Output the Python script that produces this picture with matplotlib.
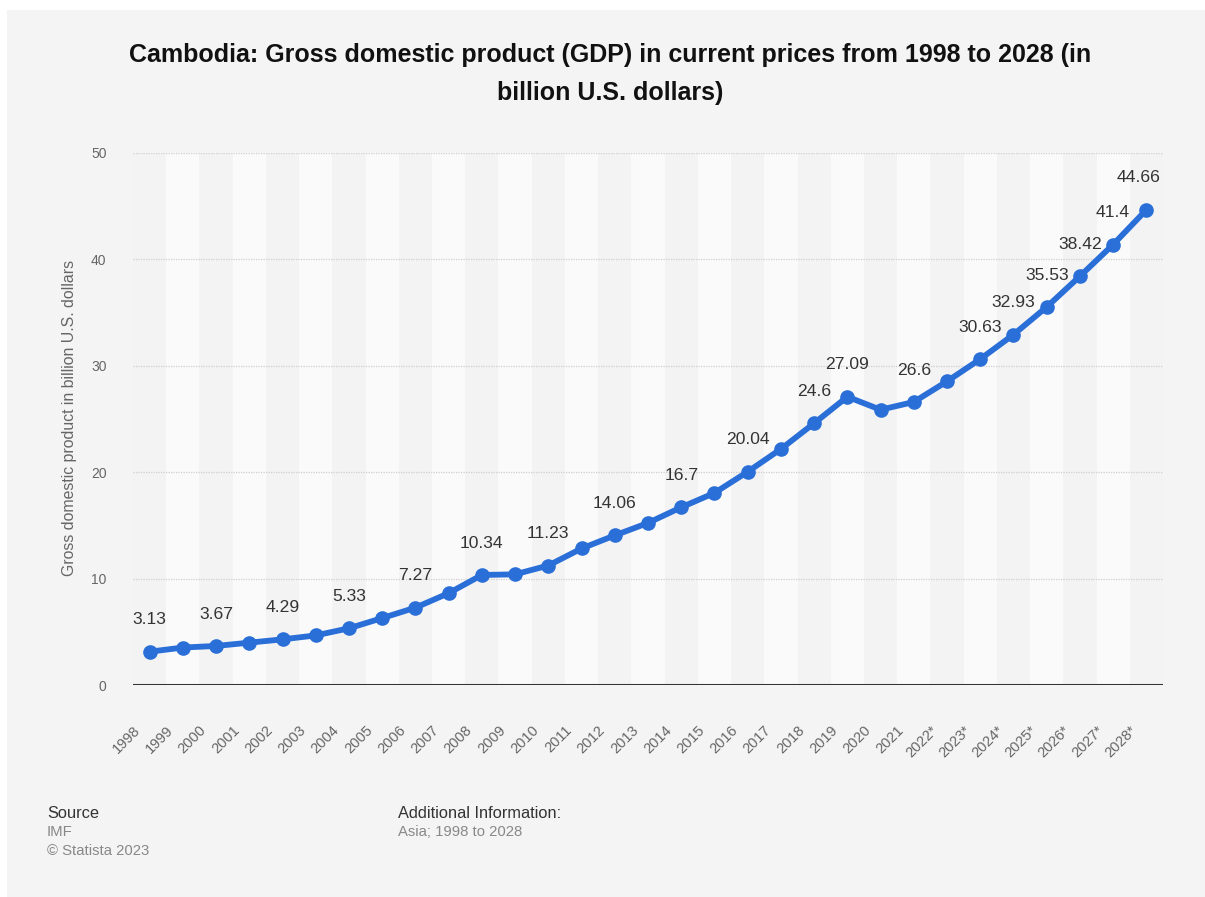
import matplotlib
matplotlib.use("Agg")
import matplotlib.pyplot as plt
from matplotlib.patches import Rectangle
from matplotlib.transforms import ScaledTranslation

plt.rcParams['font.family'] = ['Liberation Sans', 'DejaVu Sans']

years = ['1998', '1999', '2000', '2001', '2002', '2003', '2004', '2005', '2006',
         '2007', '2008', '2009', '2010', '2011', '2012', '2013', '2014', '2015',
         '2016', '2017', '2018', '2019', '2020', '2021', '2022*', '2023*',
         '2024*', '2025*', '2026*', '2027*', '2028*']
gdp = [3.13, 3.52, 3.67, 3.98, 4.29, 4.66, 5.33, 6.29, 7.27, 8.63, 10.34, 10.4,
       11.23, 12.83, 14.06, 15.23, 16.7, 18.05, 20.04, 22.18, 24.6, 27.09, 25.87,
       26.6, 28.54, 30.63, 32.93, 35.53, 38.42, 41.4, 44.66]
# years that get a value label
labelled = ['1998', '2000', '2002', '2004', '2006', '2008', '2010', '2012', '2014',
            '2016', '2018', '2019', '2021', '2023*', '2024*', '2025*', '2026*',
            '2027*', '2028*']
yticks = [0, 10, 20, 30, 40, 50]

W, H = 1205, 897
fig = plt.figure(figsize=(W / 100, H / 100), dpi=100, facecolor='white')
fig.patches.append(Rectangle((7 / W, 0), 1, 1 - 10 / H, transform=fig.transFigure,
                             facecolor='#f4f4f4', edgecolor='none', zorder=-10))

ax = fig.add_axes([133 / W, 1 - 685 / H, (1163 - 133) / W, (685 - 153) / H])
ax.set_facecolor('#f3f3f3')
x = list(range(len(years)))
for i in x:
    if i % 2 == 1:
        ax.axvspan(i - 0.5, i + 0.5, color='#fafafa', lw=0, zorder=0)

for v in yticks[1:]:
    ax.axhline(v, color='#cfcfcf', lw=0.9, ls=(0, (1, 1)), zorder=1)
ax.axhline(0, color='#333333', lw=2.2, zorder=2)

ax.plot(x, gdp, color='#2a6fd8', lw=4.2, marker='o', ms=9.5,
        solid_capstyle='round', solid_joinstyle='round', zorder=3)

for i, (yr, v) in enumerate(zip(years, gdp)):
    if yr in labelled:
        dx = -8 if i == len(years) - 1 else 0
        ax.annotate(f'{v:g}', (i, v), xytext=(dx * 0.72, 23), textcoords='offset points',
                    ha='center', va='center', fontsize=12.6, color='#333333', zorder=4)

ax.set_xlim(-0.5, len(years) - 0.5)
ax.set_ylim(0, 50)
ax.set_yticks(yticks)
ax.set_xticks(x)
ax.set_xticklabels(years, rotation=45, ha='right', va='center', rotation_mode='anchor')
ax.tick_params(axis='both', length=0, colors='#666666', labelsize=10)
ax.tick_params(axis='x', labelsize=10.5, pad=0)
ax.tick_params(axis='y', pad=19)
shift = ScaledTranslation(-12 / 100, -43 / 100, fig.dpi_scale_trans)
for lab in ax.get_xticklabels():
    lab.set_transform(lab.get_transform() + shift)
for s in ax.spines.values():
    s.set_visible(False)

fig.text(70 / W, 1 - 418 / H, 'Gross domestic product in billion U.S. dollars',
         rotation=90, ha='center', va='center', fontsize=11.4, color='#666666')

fig.text(610 / W, 1 - 55 / H,
         'Cambodia: Gross domestic product (GDP) in current prices from 1998 to 2028 (in',
         ha='center', va='center', fontsize=18, fontweight='bold', color='#111111')
fig.text(610 / W, 1 - 93 / H, 'billion U.S. dollars)',
         ha='center', va='center', fontsize=18, fontweight='bold', color='#111111')

fig.text(47 / W, 1 - 813 / H, 'Source', ha='left', va='center', fontsize=11.8, color='#333333')
fig.text(47 / W, 1 - 832 / H, 'IMF', ha='left', va='center', fontsize=10.7, color='#888888')
fig.text(47 / W, 1 - 851 / H, '\u00a9 Statista 2023', ha='left', va='center',
         fontsize=10.7, color='#888888')
fig.text(398 / W, 1 - 813 / H, 'Additional Information:', ha='left', va='center',
         fontsize=11.8, color='#333333')
fig.text(398 / W, 1 - 832 / H, 'Asia; 1998 to 2028', ha='left', va='center',
         fontsize=10.7, color='#888888')

fig.savefig('out.png', dpi=100, facecolor=fig.get_facecolor())
